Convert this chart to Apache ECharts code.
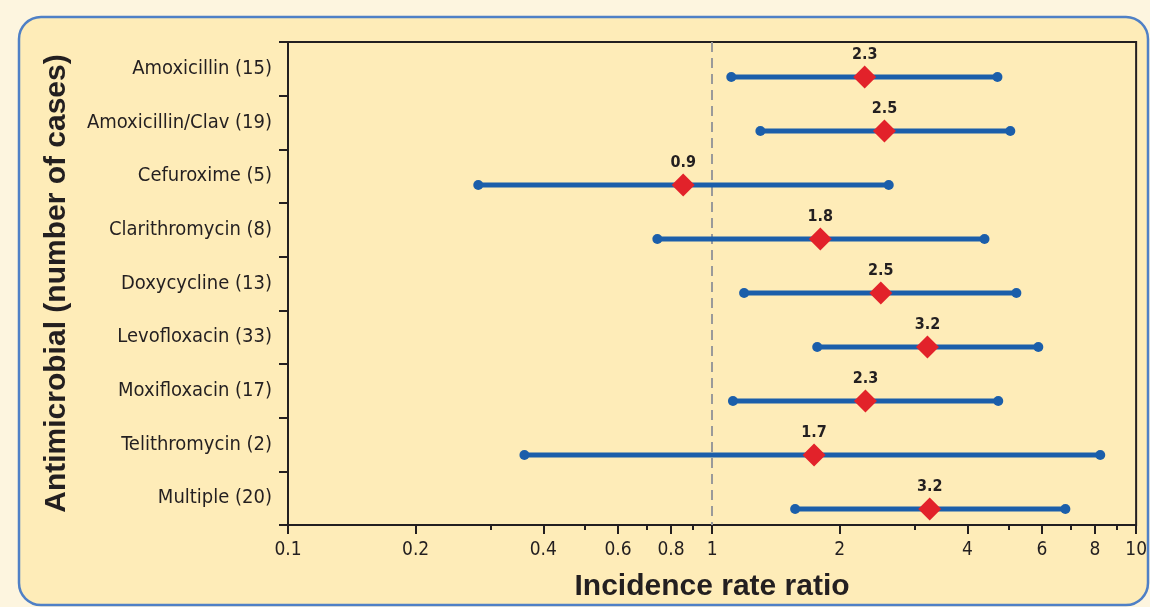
<!DOCTYPE html>
<html>
<head>
<meta charset="utf-8">
<script src="https://cdn.jsdelivr.net/npm/echarts@6/dist/echarts.min.js"></script>
<style>
  html, body { margin: 0; padding: 0; background: #fdf5df; }
  #main { width: 1150px; height: 607px; }
</style>
</head>
<body>
<div id="main"></div>
<script>
var chartDom = document.getElementById('main');
var myChart = echarts.init(chartDom);
var option;

// antimicrobials, top to bottom
let categories = ['Amoxicillin (15)', 'Amoxicillin/Clav (19)', 'Cefuroxime (5)', 'Clarithromycin (8)',
  'Doxycycline (13)', 'Levofloxacin (33)', 'Moxifloxacin (17)', 'Telithromycin (2)', 'Multiple (20)'];
// incidence rate ratio estimate and 95% CI
let estimate = [2.29, 2.55, 0.855, 1.80, 2.50, 3.22, 2.30, 1.74, 3.26];
let lower = [1.11, 1.30, 0.281, 0.743, 1.19, 1.77, 1.12, 0.361, 1.57];
let upper = [4.71, 5.05, 2.61, 4.39, 5.22, 5.88, 4.73, 8.23, 6.81];
let valueLabels = ['2.3', '2.5', '0.9', '1.8', '2.5', '3.2', '2.3', '1.7', '3.2'];
// x axis ticks
let majorTicks = [0.1, 0.2, 0.4, 0.6, 0.8, 1, 2, 4, 6, 8, 10];
let minorTicks = [0.3, 0.5, 0.7, 0.9, 3, 5, 7, 9];

let ciData = [];
let pointData = [];
for (let i = 0; i < categories.length; i++) {
  ciData.push([lower[i], upper[i], i]);
  pointData.push([estimate[i], i]);
}

const narrow = '"Liberation Sans Narrow", "DejaVu Sans Condensed", sans-serif';
const bold = '"Liberation Sans", Arial, sans-serif';
const blue = '#1b5eaa';
const red = '#e2222a';
const ink = '#231f20';

option = {
  backgroundColor: '#fdf5df',
  animation: false,
  graphic: [{
    type: 'rect',
    z: -10,
    shape: { x: 19, y: 17, width: 1129, height: 588, r: 22 },
    style: { fill: '#feecb8', stroke: '#4f80c6', lineWidth: 2.5 }
  }],
  grid: {
    left: 288, right: 12, top: 42, bottom: 78,
    show: true, borderColor: ink, borderWidth: 2
  },
  xAxis: [{
    type: 'log',
    logBase: 10,
    min: 0.1,
    max: 10,
    position: 'bottom',
    name: 'Incidence rate ratio',
    nameLocation: 'middle',
    nameGap: 47,
    nameTextStyle: { fontFamily: bold, fontWeight: 'bold', fontSize: 30, color: ink },
    axisLine: { show: true, onZero: false, lineStyle: { color: ink, width: 2 } },
    axisTick: { show: true, customValues: majorTicks, length: 9, lineStyle: { color: ink, width: 2 } },
    axisLabel: {
      show: true,
      customValues: majorTicks,
      formatter: function (v) { return String(v); },
      fontFamily: narrow, fontSize: 19, color: ink, margin: 16
    },
    splitLine: { show: false }
  }, {
    // minor ticks only
    type: 'log',
    logBase: 10,
    min: 0.1,
    max: 10,
    position: 'bottom',
    axisLine: { show: false, onZero: false },
    axisTick: { show: true, customValues: minorTicks, length: 5, lineStyle: { color: ink, width: 2 } },
    axisLabel: { show: false },
    splitLine: { show: false }
  }],
  yAxis: [{
    type: 'category',
    inverse: true,
    data: categories,
    name: 'Antimicrobial (number of cases)',
    nameLocation: 'middle',
    nameRotate: 90,
    nameGap: 216,
    nameTextStyle: { fontFamily: bold, fontWeight: 'bold', fontSize: 30, color: ink },
    axisLine: { show: true, onZero: false, lineStyle: { color: ink, width: 2 } },
    axisTick: { show: true, length: 9, lineStyle: { color: ink, width: 2 } },
    axisLabel: { fontFamily: narrow, fontSize: 20, color: ink, margin: 16 },
    splitLine: { show: false }
  }, {
    // rows sit a little below the label bands in the original
    type: 'value',
    inverse: true,
    min: -0.648,
    max: 8.296,
    show: false,
    axisLine: { onZero: false },
    splitLine: { show: false }
  }],
  series: [{
    name: 'CI',
    type: 'custom',
    xAxisIndex: 0,
    yAxisIndex: 1,
    encode: { x: [0, 1], y: 2 },
    renderItem: function (params, api) {
      const idx = api.value(2);
      const p1 = api.coord([api.value(0), idx]);
      const p2 = api.coord([api.value(1), idx]);
      return {
        type: 'group',
        children: [
          { type: 'line', shape: { x1: p1[0], y1: p1[1], x2: p2[0], y2: p2[1] }, style: { stroke: blue, lineWidth: 5 } },
          { type: 'circle', shape: { cx: p1[0], cy: p1[1], r: 5 }, style: { fill: blue } },
          { type: 'circle', shape: { cx: p2[0], cy: p2[1], r: 5 }, style: { fill: blue } }
        ]
      };
    },
    data: ciData,
    z: 2
  }, {
    name: 'IRR',
    type: 'scatter',
    xAxisIndex: 0,
    yAxisIndex: 1,
    symbol: 'diamond',
    symbolSize: [23, 23],
    itemStyle: { color: red, opacity: 1 },
    label: {
      show: true,
      position: 'top',
      distance: 3,
      formatter: function (p) { return valueLabels[p.dataIndex]; },
      fontFamily: narrow, fontWeight: 'bold', fontSize: 16, color: ink
    },
    data: pointData,
    z: 3,
    markLine: {
      silent: true,
      symbol: 'none',
      label: { show: false },
      lineStyle: { color: '#9a9a9a', type: [10, 6], width: 2 },
      data: [{ xAxis: 1 }],
      z: 1
    }
  }]
};

option && myChart.setOption(option);
</script>
</body>
</html>
